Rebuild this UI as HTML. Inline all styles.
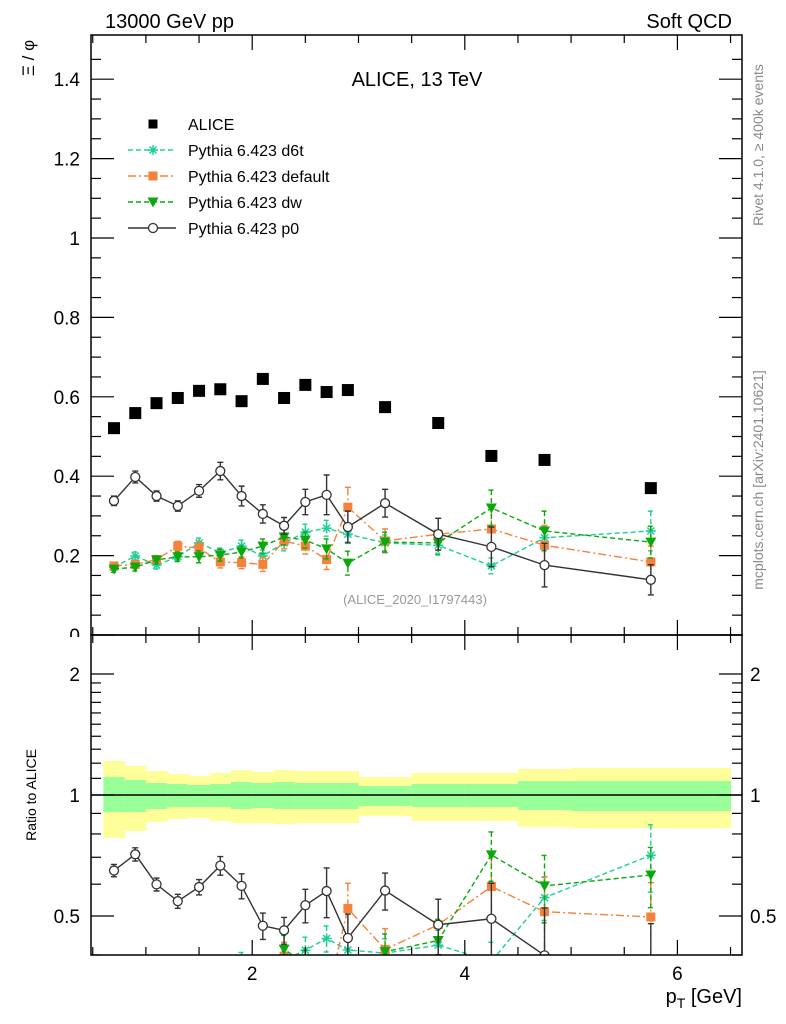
<!DOCTYPE html>
<html><head><meta charset="utf-8"><style>
body{margin:0;background:#fff}
svg{display:block;font-family:"Liberation Sans",sans-serif}
</style></head><body>
<svg id="c" width="786" height="1024" xmlns="http://www.w3.org/2000/svg">
<defs>
<clipPath id="clipMain"><rect x="91" y="35" width="651" height="600"/></clipPath>
<clipPath id="clipRatio"><rect x="91" y="635" width="651" height="320"/></clipPath>
<clipPath id="clipLab"><rect x="0" y="0" width="91" height="637"/></clipPath>
</defs>
<g id="bands" clip-path="url(#clipRatio)"></g>
<g id="marks"></g>
<rect x="91" y="35" width="651" height="600" fill="none" stroke="#000" stroke-width="1.5"/>
<rect x="91" y="635" width="651" height="320" fill="none" stroke="#000" stroke-width="1.5"/>
<g id="axes"></g>
<text x="105" y="28" font-size="20">13000 GeV pp</text>
<text x="732" y="28" font-size="20" text-anchor="end">Soft QCD</text>
<text x="417" y="86" font-size="20" text-anchor="middle">ALICE, 13 TeV</text>
<text x="415" y="604" font-size="13" fill="#999" text-anchor="middle">(ALICE_2020_I1797443)</text>
<text transform="translate(34,58) rotate(-90)" font-size="17" text-anchor="middle">Ξ / φ</text>
<text transform="translate(36,795) rotate(-90)" font-size="14" text-anchor="middle">Ratio to ALICE</text>
<text x="742" y="1003" font-size="20" text-anchor="end">p<tspan font-size="14" dy="5">T</tspan><tspan dy="-5"> [GeV]</tspan></text>
<text transform="translate(763,145) rotate(-90)" font-size="14" fill="#888" text-anchor="middle">Rivet 4.1.0, ≥ 400k events</text>
<text transform="translate(763,480) rotate(-90)" font-size="14" fill="#888" text-anchor="middle">mcplots.cern.ch [arXiv:2401.10621]</text>
<g id="legend"></g>
</svg>
<script>
const xCenters=[0.7,0.9,1.1,1.3,1.5,1.7,1.9,2.1,2.3,2.5,2.7,2.9,3.25,3.75,4.25,4.75,5.75];
const xEdges=[0.6,0.8,1.0,1.2,1.4,1.6,1.8,2.0,2.2,2.4,2.6,2.8,3.0,3.5,4.0,4.5,5.0,6.5];
const alice=[0.521,0.559,0.584,0.597,0.615,0.619,0.589,0.645,0.597,0.630,0.612,0.617,0.574,0.534,0.451,0.441,0.370];
const p0=[0.338,0.398,0.350,0.325,0.363,0.413,0.350,0.305,0.275,0.335,0.353,0.272,0.332,0.254,0.222,0.176,0.139];
const p0Err=[0.012,0.015,0.013,0.013,0.016,0.022,0.025,0.023,0.021,0.032,0.05,0.04,0.035,0.04,0.05,0.055,0.038];
const d6t=[0.171,0.199,0.176,0.197,0.232,0.207,0.224,0.199,0.232,0.259,0.269,0.254,0.232,0.226,0.174,0.245,0.262];
const d6tErr=[0.008,0.01,0.01,0.01,0.012,0.012,0.015,0.015,0.02,0.02,0.02,0.02,0.02,0.02,0.02,0.03,0.05];
const dflt=[0.174,0.178,0.190,0.224,0.219,0.184,0.182,0.178,0.237,0.224,0.190,0.322,0.237,0.254,0.267,0.226,0.184];
const dfltErr=[0.008,0.01,0.01,0.012,0.015,0.015,0.015,0.018,0.02,0.02,0.025,0.05,0.03,0.04,0.05,0.05,0.04];
const dw=[0.166,0.171,0.189,0.197,0.197,0.201,0.209,0.224,0.247,0.239,0.217,0.181,0.234,0.232,0.320,0.262,0.234];
const dwErr=[0.008,0.01,0.01,0.012,0.015,0.015,0.015,0.018,0.02,0.02,0.025,0.03,0.025,0.03,0.045,0.05,0.04];
const yellowHi=[1.215,1.181,1.147,1.128,1.115,1.134,1.154,1.141,1.154,1.147,1.147,1.147,1.108,1.134,1.134,1.161,1.167];
const greenHi=[1.108,1.090,1.071,1.065,1.059,1.065,1.077,1.071,1.077,1.071,1.071,1.071,1.053,1.065,1.065,1.083,1.083];
const greenLo=[0.907,0.907,0.923,0.934,0.934,0.934,0.923,0.928,0.923,0.923,0.923,0.923,0.939,0.934,0.934,0.918,0.912];
const yellowLo=[0.782,0.814,0.857,0.872,0.877,0.862,0.852,0.852,0.847,0.852,0.852,0.852,0.887,0.862,0.862,0.833,0.827];
const mainTicks=[0,0.2,0.4,0.6,0.8,1,1.2,1.4];
const mainTickLabels=["0","0.2","0.4","0.6","0.8","1","1.2","1.4"];
const xTickLabels=["2","4","6"];
const ratioTicks=[0.5,1,2];
const ratioTickLabels=["0.5","1","2"];

const NS="http://www.w3.org/2000/svg";
const X=v=>39.6+106.3*v;
const Y=v=>635-397*v;
const R=v=>795-402*Math.log10(v);
function mk(tag,attrs,parent){const e=document.createElementNS(NS,tag);for(const k in attrs)e.setAttribute(k,attrs[k]);parent.appendChild(e);return e;}
const axes=document.getElementById('axes'),marks=document.getElementById('marks'),bands=document.getElementById('bands'),legend=document.getElementById('legend');

for(let i=0;i<xCenters.length;i++){
  const x1=X(xEdges[i]),x2=X(xEdges[i+1]);
  let e=mk('rect',{x:x1,y:R(yellowHi[i]),width:x2-x1+0.5,height:R(yellowLo[i])-R(yellowHi[i]),fill:'#ffff99'},bands);
  
  
  e=mk('rect',{x:x1,y:R(greenHi[i]),width:x2-x1+0.5,height:R(greenLo[i])-R(greenHi[i]),fill:'#99ff99'},bands);
  
  
}
let ln=mk('line',{x1:91,x2:742,y1:R(1),y2:R(1),stroke:'#000','stroke-width':1.5},bands);



for(let v=0.5;v<=6.6;v+=0.5){
  const major=Math.abs(v-Math.round(v/2)*2)<1e-6;
  const L=major?15:8,x=X(v);
  [[635,-1],[35,1],[955,-1],[635,1]].forEach(([y0,d])=>{const t=mk('line',{x1:x,x2:x,y1:y0,y2:y0+d*L,stroke:'#000','stroke-width':1.2},axes);});
}
xTickLabels.forEach(s=>{const t=mk('text',{x:X(+s),y:980,'font-size':19,'text-anchor':'middle'},axes);t.textContent=s;});
for(let v=0;v<=1.5;v+=0.05){
  const major=Math.abs(v*5-Math.round(v*5))<1e-6;const L=major?23:10,y=Y(v);
  [[91,1],[742,-1]].forEach(([x0,d])=>{const t=mk('line',{x1:x0,x2:x0+d*L,y1:y,y2:y,stroke:'#000','stroke-width':1.2},axes);});
}
mainTicks.forEach((v,i)=>{const t=mk('text',{x:80,y:Y(v)+7,'font-size':19,'text-anchor':'end','clip-path':'url(#clipLab)'},axes);t.textContent=mainTickLabels[i];});
const rMinor=[0.4,0.6,0.7,0.8,0.9,1.1,1.2,1.3,1.4,1.5,1.6,1.7,1.8,1.9];
rMinor.concat(ratioTicks).forEach(v=>{const major=ratioTicks.includes(v);const L=major?23:10,y=R(v);
  [[91,1],[742,-1]].forEach(([x0,d])=>{const t=mk('line',{x1:x0,x2:x0+d*L,y1:y,y2:y,stroke:'#000','stroke-width':1.2},axes);});});
ratioTicks.forEach((v,i)=>{[[80,'end'],[750,'start']].forEach(([x,a])=>{const t=mk('text',{x:x,y:R(v)+7,'font-size':19,'text-anchor':a},axes);t.textContent=ratioTickLabels[i];});});

function marker(g,type,x,y,col){
  let e;
  if(type==='sq'){e=mk('rect',{x:x-4.5,y:y-4.5,width:9,height:9,fill:col},g);}
  else if(type==='bigsq'){e=mk('rect',{x:x-6,y:y-6,width:12,height:12,fill:col},g);}
  else if(type==='circ'){e=mk('circle',{cx:x,cy:y,r:4.5,fill:'#fff',stroke:col,'stroke-width':1.3},g);}
  else if(type==='tri'){e=mk('path',{d:`M${x-5.5},${y-4.5}L${x+5.5},${y-4.5}L${x},${y+5.5}Z`,fill:col},g);}
  else {e=mk('path',{d:`M${x-5},${y}H${x+5}M${x},${y-5}V${y+5}M${x-3.5},${y-3.5}L${x+3.5},${y+3.5}M${x-3.5},${y+3.5}L${x+3.5},${y-3.5}`,stroke:col,'stroke-width':1.5,fill:'none'},g);}
  
  
}
const series=[
 {name:'d6t',vals:d6t,err:d6tErr,col:'#1ecf9a',dash:'5,3',type:'star'},
 {name:'default',vals:dflt,err:dfltErr,col:'#f5813a',dash:'8,3,2,3',type:'sq'},
 {name:'dw',vals:dw,err:dwErr,col:'#0aa80a',dash:'5,3',type:'tri'},
 {name:'p0',vals:p0,err:p0Err,col:'#333',dash:'',type:'circ'}];
series.forEach(s=>{
  [[Y,'clipMain'],[R,'clipRatio']].forEach(([F,clip],pi)=>{
    const g=mk('g',{'clip-path':`url(#${clip})`},marks);
    
    
    const vals=s.vals.map((v,i)=>pi?v/alice[i]:v);
    const errs=s.err.map((e,i)=>pi?e/alice[i]:e);
    const pts=vals.map((v,i)=>`${X(xCenters[i])},${F(v)}`).join(' ');
    const pl=mk('polyline',{points:pts,fill:'none',stroke:s.col,'stroke-width':1.4,'stroke-dasharray':s.dash},g);
    
    
    vals.forEach((v,i)=>{
      const x=X(xCenters[i]),y1=F(v+errs[i]),y2=F(Math.max(v-errs[i],0.01));
      const eb=mk('path',{d:`M${x},${y1}V${y2}M${x-3},${y1}H${x+3}M${x-3},${y2}H${x+3}`,stroke:s.col,'stroke-width':1.4,'stroke-dasharray':s.dash,fill:'none'},g);
      
      
      marker(g,s.type,x,F(v),s.col);
    });
  });
});
const ga=mk('g',{},marks);


alice.forEach((v,i)=>marker(ga,'bigsq',X(xCenters[i]),Y(v),'#000'));

const legRows=[['ALICE','#000','','bigsq'],['Pythia 6.423 d6t','#1ecf9a','5,3','star'],['Pythia 6.423 default','#f5813a','8,3,2,3','sq'],['Pythia 6.423 dw','#0aa80a','5,3','tri'],['Pythia 6.423 p0','#333','','circ']];
legRows.forEach((r,i)=>{
  const y=124+26*i;
  const g=mk('g',{},legend);
  
  
  if(i>0){mk('line',{x1:128,x2:176,y1:y,y2:y,stroke:r[1],'stroke-width':1.4,'stroke-dasharray':r[2]},g);}
  marker(g,r[3]==='bigsq'?'sq':r[3],153,y,r[1]);
  const t=mk('text',{x:188,y:y+6,'font-size':16},g);t.textContent=r[0];
});
</script>
</body></html>
